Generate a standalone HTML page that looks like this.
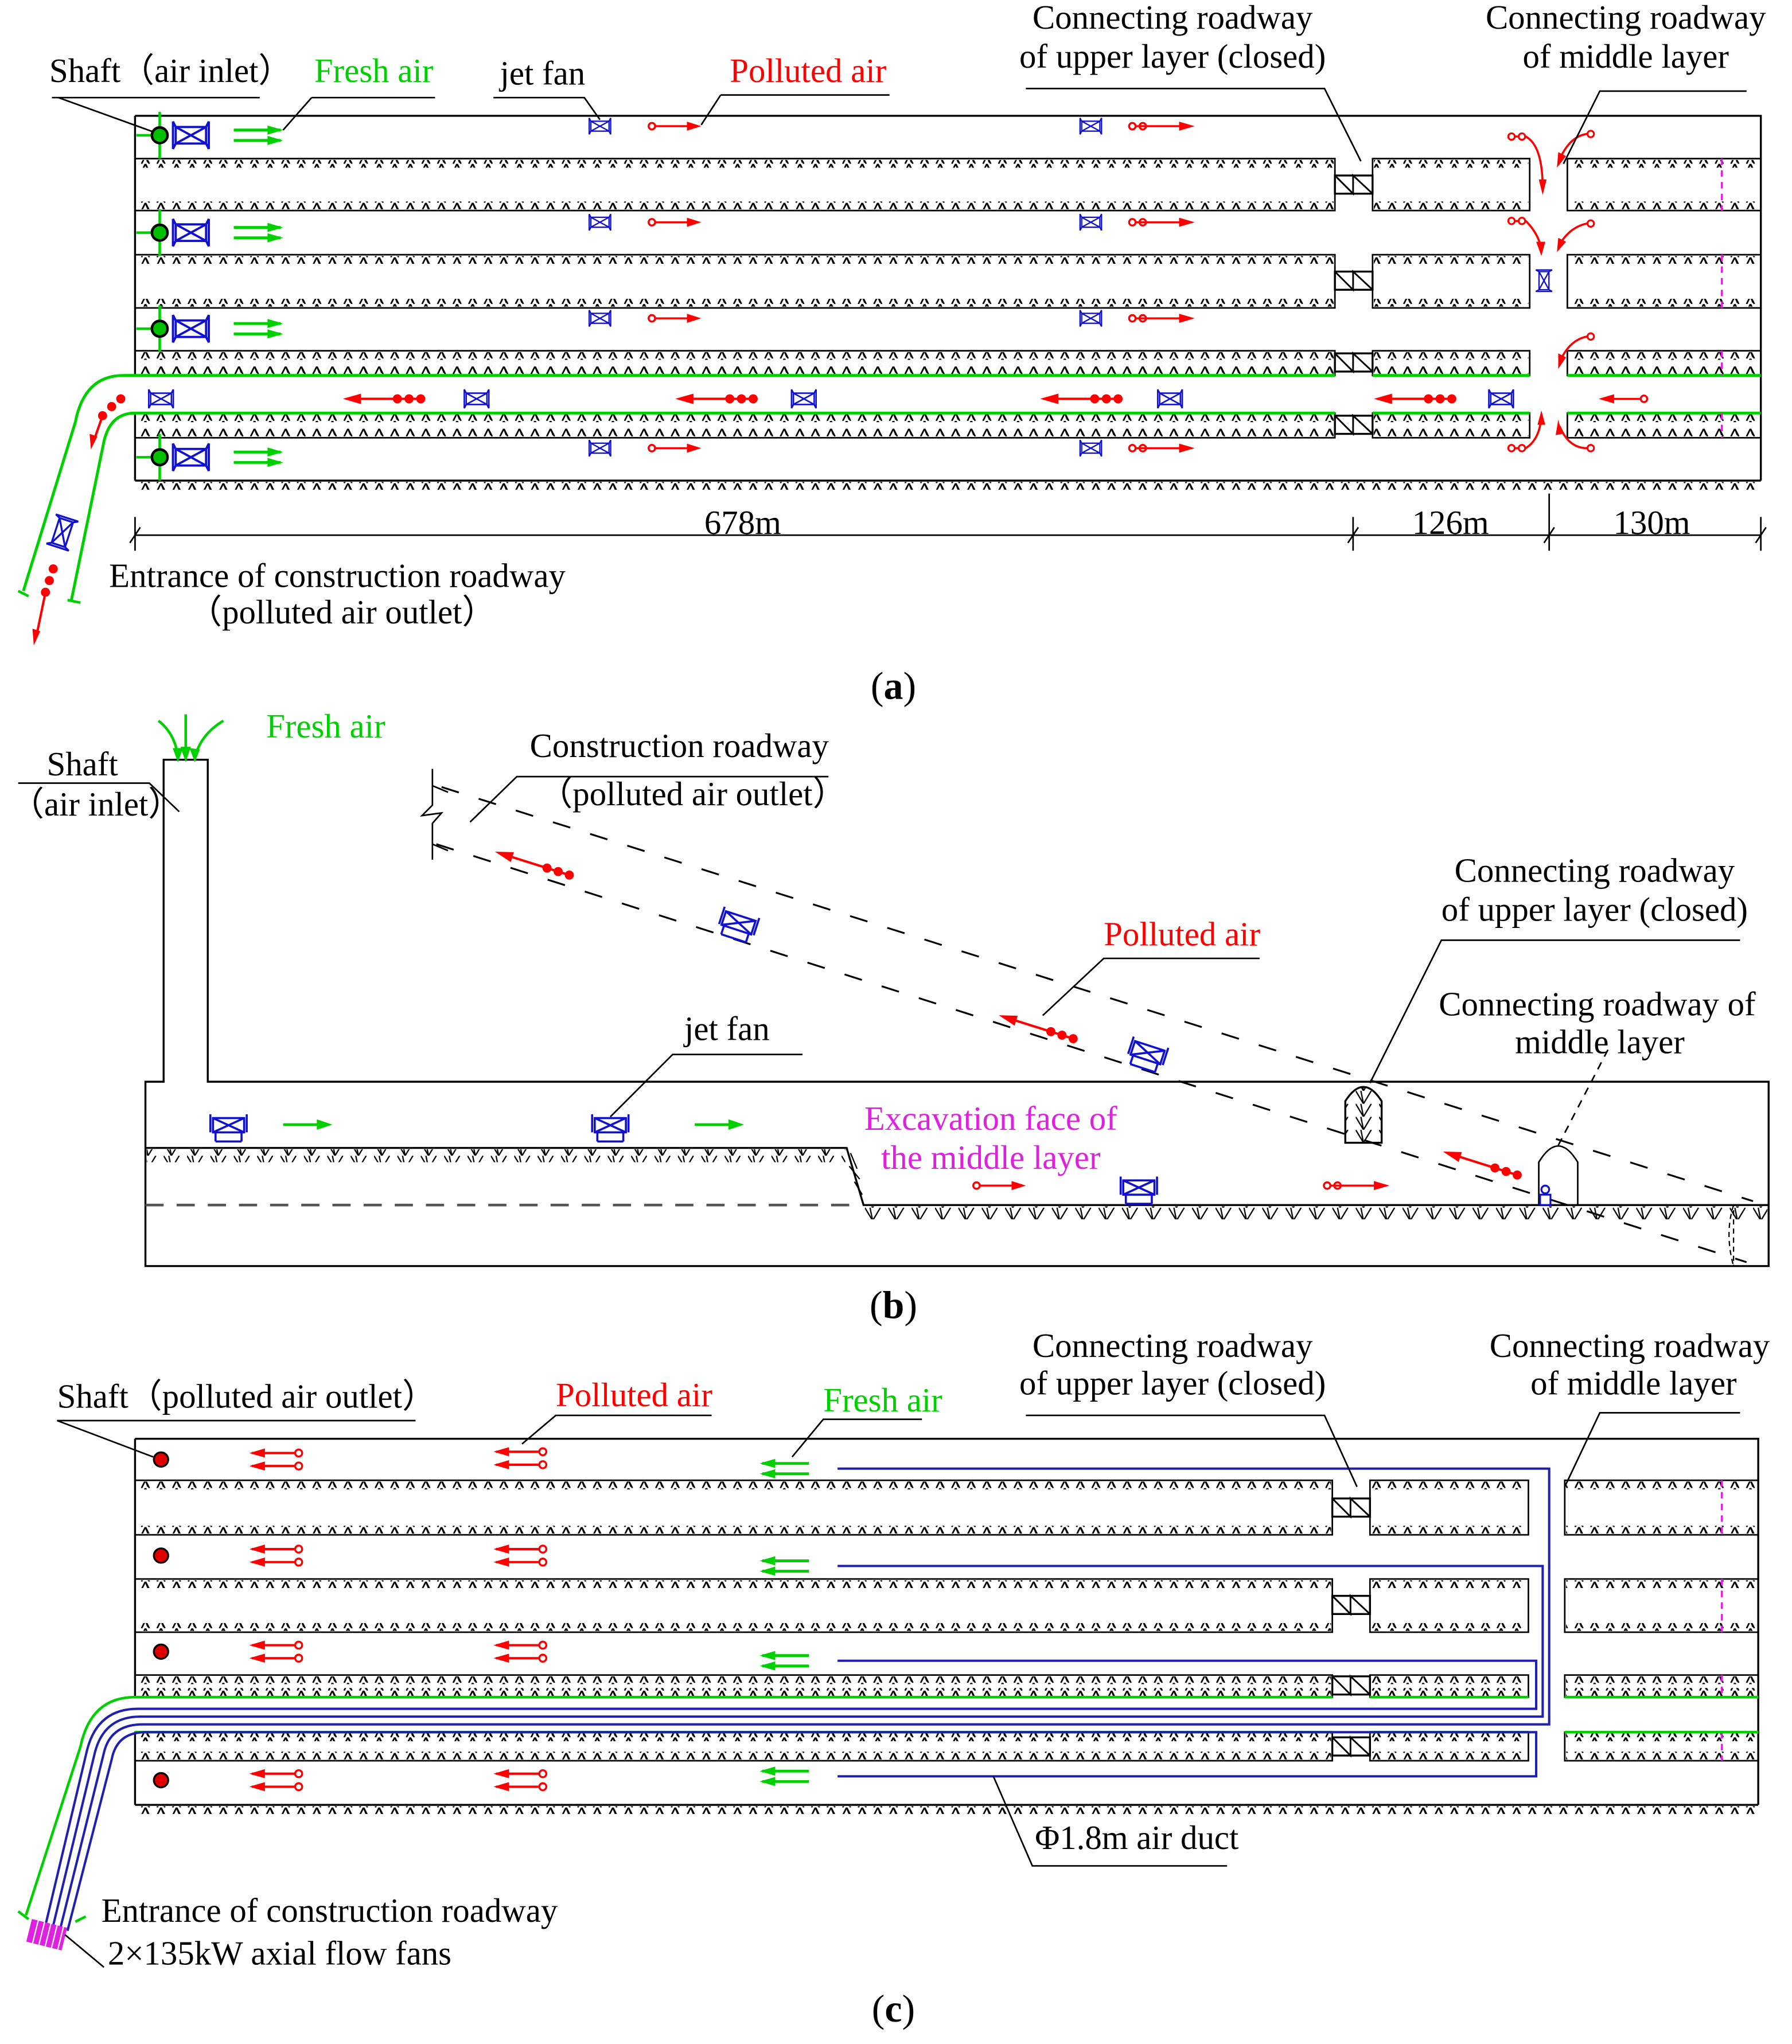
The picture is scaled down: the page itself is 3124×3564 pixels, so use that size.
<!DOCTYPE html>
<html><head><meta charset="utf-8"><style>
html,body{margin:0;padding:0;background:#fff}
svg{display:block}
text{font-family:"Liberation Serif",serif;font-size:26px;fill:#000}
.g{fill:#00d000}.r{fill:#ff0000}.m{fill:#e020e0}
.k{stroke:#000;stroke-width:1.5;fill:none}
.ki{stroke:#000;stroke-width:1.2;fill:none}
</style></head><body>
<svg width="3124" height="3564" viewBox="0 0 1380 1574" xmlns="http://www.w3.org/2000/svg">
<defs>
<pattern id="h" width="12" height="6" patternUnits="userSpaceOnUse"><path d="M1,6 L4,0 L7,6 M4,0 L6,5" stroke="#000" stroke-width="1.2" fill="none"/></pattern>
<pattern id="hb" width="18" height="10" patternUnits="userSpaceOnUse"><path d="M0,0 L6,10 L12,0 M6,10 L4,0" stroke="#000" stroke-width="1" fill="none"/></pattern>
<symbol id="fan" viewBox="0 0 32 22"><g stroke="#1010d0" stroke-width="1.6" fill="none"><rect x="5" y="5" width="22" height="12"/><path d="M5,5 L27,17 M5,17 L27,5 M3,1 L3,21 M29,1 L29,21 M3,1 L5,5 M3,21 L5,17 M29,1 L27,5 M29,21 L27,17"/></g></symbol>
<symbol id="bfan" viewBox="0 0 32 22"><g stroke="#1010d0" stroke-width="1.6" fill="none"><rect x="4" y="3" width="24" height="11"/><path d="M4,3 L28,14 M4,14 L28,3 M2,0 L2,14 M30,0 L30,14 M6,14 L6,21 M26,14 L26,21 M6,21 L26,21"/></g></symbol>
<g id="rr"><circle cx="0" cy="0" r="2.5" fill="none" stroke="#f00" stroke-width="1.5"/><circle cx="8" cy="0" r="2.5" fill="none" stroke="#f00" stroke-width="1.5"/><path d="M2,0 L40,0" stroke="#f00" stroke-width="1.5"/><path d="M48,0 L36,-3.5 L36,3.5Z" fill="#f00"/></g>
<g id="rr1"><circle cx="0" cy="0" r="2.5" fill="none" stroke="#f00" stroke-width="1.5"/><path d="M2,0 L30,0" stroke="#f00" stroke-width="1.5"/><path d="M38,0 L27,-3.5 L27,3.5Z" fill="#f00"/></g>
<g id="rl3"><path d="M0,0 L56,0" stroke="#f00" stroke-width="1.8"/><path d="M-4,0 L10,-4 L10,4Z" fill="#f00"/><circle cx="38" cy="0" r="3.5" fill="#f00"/><circle cx="47" cy="0" r="3.5" fill="#f00"/><circle cx="56" cy="0" r="3.5" fill="#f00"/></g>
<g id="gg"><path d="M0,-4 L36,-4 M0,4 L36,4" stroke="#00d000" stroke-width="2.2"/><path d="M38,-4 L26,-7.5 L26,-0.5Z M38,4 L26,0.5 L26,7.5Z" fill="#00d000"/></g>
<g id="gl"><path d="M2,-4 L38,-4 M2,4 L38,4" stroke="#00d000" stroke-width="2.2"/><path d="M0,-4 L12,-7.5 L12,-0.5Z M0,4 L12,0.5 L12,7.5Z" fill="#00d000"/></g>
<g id="rl2"><path d="M2,-5 L36,-5 M2,5 L36,5" stroke="#f00" stroke-width="1.8"/><path d="M0,-5 L12,-8.5 L12,-1.5Z M0,5 L12,1.5 L12,8.5Z" fill="#f00"/><circle cx="38" cy="-5" r="2.7" fill="#fff" stroke="#f00" stroke-width="1.5"/><circle cx="38" cy="5" r="2.7" fill="#fff" stroke="#f00" stroke-width="1.5"/></g>
<g id="shaft"><path d="M0,-18 L0,18 M-18,0 L-3,0" stroke="#00d000" stroke-width="2"/><circle cx="0" cy="0" r="6" fill="#00c000" stroke="#000" stroke-width="2"/></g>
<g id="cl"><rect x="0" y="-7" width="29" height="14" fill="#fff" stroke="#000" stroke-width="1.5"/><path d="M0,-7 L14,7 L14,-7 L29,7 M14,-7 L14,7" stroke="#000" stroke-width="1.3" fill="none"/></g>
</defs>

<!-- ===================== (a) ===================== -->
<g>
<path class="k" d="M104,89 L1356,89 L1356,370 M104,89 L104,289 M104,318 L104,370"/>
<g class="ki">
<rect x="104" y="122" width="924" height="40"/><rect x="1057" y="122" width="121" height="40"/><rect x="1207" y="122" width="149" height="40"/>
<rect x="104" y="196" width="924" height="41"/><rect x="1057" y="196" width="121" height="41"/><rect x="1207" y="196" width="149" height="41"/>
<rect x="104" y="270" width="924" height="19"/><rect x="1057" y="270" width="121" height="19"/><rect x="1207" y="270" width="149" height="19"/>
<rect x="104" y="318" width="924" height="19"/><rect x="1057" y="318" width="121" height="19"/><rect x="1207" y="318" width="149" height="19"/>
</g>
<g fill="url(#h)">
<rect x="105" y="123" width="922" height="6"/><rect x="105" y="155" width="922" height="6"/>
<rect x="1058" y="123" width="119" height="6"/><rect x="1058" y="155" width="119" height="6"/>
<rect x="1208" y="123" width="147" height="6"/><rect x="1208" y="155" width="147" height="6"/>
<rect x="105" y="197" width="922" height="6"/><rect x="105" y="230" width="922" height="6"/>
<rect x="1058" y="197" width="119" height="6"/><rect x="1058" y="230" width="119" height="6"/>
<rect x="1208" y="197" width="147" height="6"/><rect x="1208" y="230" width="147" height="6"/>
<rect x="105" y="271" width="922" height="6"/><rect x="105" y="282" width="922" height="6"/>
<rect x="1058" y="271" width="119" height="6"/><rect x="1058" y="282" width="119" height="6"/>
<rect x="1208" y="271" width="147" height="6"/><rect x="1208" y="282" width="147" height="6"/>
<rect x="105" y="319" width="922" height="6"/><rect x="105" y="330" width="922" height="6"/>
<rect x="1058" y="319" width="119" height="6"/><rect x="1058" y="330" width="119" height="6"/>
<rect x="1208" y="319" width="147" height="6"/><rect x="1208" y="330" width="147" height="6"/>
<rect x="104" y="371" width="1252" height="6"/>
</g>
<path d="M104,370 L1356,370" class="k"/>
<path d="M104,289 L1028,289 M1057,289 L1178,289 M1207,289 L1356,289 M104,318 L1028,318 M1057,318 L1178,318 M1207,318 L1356,318" stroke="#00d000" stroke-width="2.2"/>
<path d="M1326,122 L1326,162 M1326,196 L1326,237 M1326,270 L1326,289 M1326,318 L1326,337" stroke="#e020e0" stroke-width="1.5" stroke-dasharray="5,4"/>
<use href="#cl" x="1028" y="142"/><use href="#cl" x="1028" y="216"/><use href="#cl" x="1028" y="279"/><use href="#cl" x="1028" y="327"/>
<path d="M104,289 L95,289 Q65,289 58,325 L18,455 M104,318 Q85,318 80,340 L55,462" fill="none" stroke="#00d000" stroke-width="2.2"/>
<path d="M14,455 L22,459 M52,462 L62,464" stroke="#00d000" stroke-width="2"/>
<use href="#fan" x="0" y="0" width="30" height="20" transform="translate(48,410) rotate(-72) translate(-15,-10)"/>
<g fill="#f00"><circle cx="93" cy="307" r="3.5"/><circle cx="86" cy="313" r="3.5"/><circle cx="79" cy="320" r="3.5"/><circle cx="41" cy="438" r="3.5"/><circle cx="38" cy="447" r="3.5"/><circle cx="35" cy="456" r="3.5"/></g>
<path d="M79,320 L72,340 M35,456 L28,490" stroke="#f00" stroke-width="1.8"/>
<path d="M70,346 L69,334 L75,336Z M26,497 L25,484 L31,486Z" fill="#f00"/>
<use href="#shaft" x="123" y="104"/><use href="#shaft" x="123" y="179"/><use href="#shaft" x="123" y="253"/><use href="#shaft" x="123" y="352"/>
<use href="#fan" x="130" y="92" width="34" height="24"/><use href="#fan" x="130" y="167" width="34" height="24"/><use href="#fan" x="130" y="241" width="34" height="24"/><use href="#fan" x="130" y="340" width="34" height="24"/>
<use href="#gg" x="180" y="104"/><use href="#gg" x="180" y="179"/><use href="#gg" x="180" y="253"/><use href="#gg" x="180" y="352"/>
<use href="#fan" x="446" y="90" width="32" height="14"/><use href="#fan" x="446" y="164" width="32" height="14"/><use href="#fan" x="446" y="238" width="32" height="14"/><use href="#fan" x="446" y="338" width="32" height="14"/>
<use href="#fan" x="824" y="90" width="32" height="14"/><use href="#fan" x="824" y="164" width="32" height="14"/><use href="#fan" x="824" y="238" width="32" height="14"/><use href="#fan" x="824" y="338" width="32" height="14"/>
<use href="#rr1" x="502" y="97"/><use href="#rr1" x="502" y="171"/><use href="#rr1" x="502" y="245"/><use href="#rr1" x="502" y="345"/>
<use href="#rr" x="872" y="97"/><use href="#rr" x="872" y="171"/><use href="#rr" x="872" y="245"/><use href="#rr" x="872" y="345"/>
<use href="#fan" x="108" y="299" width="32" height="16"/><use href="#fan" x="351" y="299" width="32" height="16"/><use href="#fan" x="603" y="299" width="32" height="16"/><use href="#fan" x="885" y="299" width="32" height="16"/><use href="#fan" x="1140" y="299" width="32" height="16"/>
<use href="#rl3" x="268" y="307"/><use href="#rl3" x="524" y="307"/><use href="#rl3" x="805" y="307"/><use href="#rl3" x="1062" y="307"/>
<g transform="translate(1234,307)"><path d="M0,0 L30,0" stroke="#f00" stroke-width="1.5"/><path d="M-3,0 L9,-3.5 L9,3.5Z" fill="#f00"/><circle cx="32" cy="0" r="2.5" fill="#fff" stroke="#f00" stroke-width="1.5"/></g>
<use href="#fan" x="0" y="0" width="28" height="14" transform="translate(1189,216) rotate(90) translate(-14,-7)"/>
<g stroke="#f00" stroke-width="1.6" fill="none">
<path d="M1167,105 L1175,105 Q1188,112 1188,145"/><path d="M1222,103 Q1208,105 1200,125"/>
<path d="M1167,170 L1175,170 Q1185,180 1187,192"/><path d="M1222,172 Q1208,175 1200,190"/>
<path d="M1222,259 Q1208,262 1201,279"/>
<path d="M1167,345 L1175,345 Q1186,338 1187,320"/><path d="M1222,345 Q1208,345 1201,328"/>
</g>
<g fill="#f00"><path d="M1188,150 L1185,138 L1191,138Z M1187,197 L1183,186 L1190,186Z M1199,129 L1200,117 L1206,120Z M1199,194 L1200,183 L1206,186Z M1200,284 L1200,272 L1206,275Z M1187,316 L1184,327 L1190,327Z M1200,323 L1203,334 L1198,335Z"/></g>
<g fill="#fff" stroke="#f00" stroke-width="1.4"><circle cx="1164" cy="105" r="2.5"/><circle cx="1172" cy="105" r="2.5"/><circle cx="1225" cy="103" r="2.5"/><circle cx="1164" cy="170" r="2.5"/><circle cx="1172" cy="170" r="2.5"/><circle cx="1225" cy="172" r="2.5"/><circle cx="1225" cy="259" r="2.5"/><circle cx="1164" cy="345" r="2.5"/><circle cx="1172" cy="345" r="2.5"/><circle cx="1225" cy="345" r="2.5"/></g>
<path class="ki" d="M104,412 L1356,412 M104,398 L104,424 M1042,398 L1042,424 M1193,380 L1193,424 M1356,398 L1356,424 M100,418 L108,406 M1038,418 L1046,406 M1189,418 L1197,406 M1352,418 L1360,406"/>
<text x="572" y="411" text-anchor="middle">678m</text><text x="1117" y="411" text-anchor="middle">126m</text><text x="1272" y="411" text-anchor="middle">130m</text>
<text x="38" y="63">Shaft（air inlet）</text><path class="ki" d="M40,75 L200,75 M45,75 L117,101"/>
<text x="242" y="63" class="g">Fresh air</text><path class="ki" d="M240,75 L335,75 M240,75 L218,100"/>
<text x="385" y="65">jet fan</text><path class="ki" d="M380,75 L450,75 L462,92"/>
<text x="562" y="63" class="r">Polluted air</text><path class="ki" d="M555,73 L685,73 M555,73 L540,96"/>
<text x="903" y="22" text-anchor="middle">Connecting roadway</text><text x="903" y="52" text-anchor="middle">of upper layer (closed)</text>
<path class="ki" d="M790,68 L1020,68 L1048,124"/>
<text x="1252" y="22" text-anchor="middle">Connecting roadway</text><text x="1252" y="52" text-anchor="middle">of middle layer</text>
<path class="ki" d="M1345,70 L1232,70 L1204,126"/>
<text x="84" y="452">Entrance of construction roadway</text><text x="145" y="480">（polluted air outlet）</text>
<text x="688" y="538" text-anchor="middle" style="font-size:30px">(<tspan font-weight="bold">a</tspan>)</text>
</g>

<!-- ===================== (b) ===================== -->
<g>
<path class="k" d="M112,833 L126,833 L126,585 L160,585 L160,833 L1362,833 L1362,975 L112,975 Z"/>
<path class="k" d="M112,884 L652,884 L665,928 L1362,928"/>
<rect x="113" y="885" width="538" height="10" fill="url(#hb)"/><rect x="666" y="929" width="695" height="10" fill="url(#hb)"/>
<path d="M655,888 L660,900 M654,898 L662,908 M658,910 L664,920" stroke="#000" stroke-width="1"/>
<path d="M112,928 L655,928" stroke="#555" stroke-width="2" stroke-dasharray="14,10"/>
<path d="M340,606 L1350,925 M336,650 L1345,972" stroke="#000" stroke-width="1.4" stroke-dasharray="14,16"/>
<path class="ki" d="M333,592 L333,620 L325,628 L340,626 L333,634 L333,662 M333,605 L345,610 M333,650 L345,655"/>
<path d="M1335,928 L1362,928 L1362,975 L1335,975 Z M1335,928 Q1328,950 1335,975" stroke="#000" stroke-width="1" stroke-dasharray="4,3" fill="none"/>
<path d="M1036,880 L1036,848 Q1050,826 1064,848 L1064,880 Z" fill="url(#hb)" stroke="#000" stroke-width="1.5"/>
<path d="M1185,928 L1185,895 Q1200,870 1215,895 L1215,928" class="ki"/>
<circle cx="1190" cy="916" r="3" fill="none" stroke="#1010d0" stroke-width="1.4"/><rect x="1186" y="920" width="8" height="8" fill="none" stroke="#1010d0" stroke-width="1.4"/>
<path d="M1200,882 L1240,805" stroke="#000" stroke-width="1.2" stroke-dasharray="6,5"/>
<g stroke="#00d000" stroke-width="2" fill="none"><path d="M143,550 L143,582 M122,555 Q135,565 137,583 M172,555 Q155,565 150,583"/></g>
<path d="M143,587 L139,575 L147,575Z M137,587 L133,576 L141,576Z M150,587 L146,576 L154,577Z" fill="#00d000"/>
<use href="#bfan" x="160" y="858" width="32" height="22"/><use href="#bfan" x="454" y="858" width="32" height="22"/><use href="#bfan" x="861" y="906" width="32" height="22"/>
<use href="#bfan" x="0" y="0" width="32" height="22" transform="translate(568,713) rotate(18) translate(-16,-11)"/>
<use href="#bfan" x="0" y="0" width="32" height="22" transform="translate(883,813) rotate(18) translate(-16,-11)"/>
<g stroke="#00d000" stroke-width="2"><path d="M218,866 L248,866 M535,866 L565,866"/></g>
<path d="M256,866 L244,862 L244,870Z M573,866 L561,862 L561,870Z" fill="#00d000"/>
<use href="#rr1" x="752" y="913"/><use href="#rr" x="1022" y="913"/>
<use href="#rl3" transform="translate(385,657) rotate(17.5)"/>
<use href="#rl3" transform="translate(773,783) rotate(17.5)"/>
<use href="#rl3" transform="translate(1115,888) rotate(17.5)"/>
<text x="205" y="568" class="g">Fresh air</text>
<text x="36" y="597">Shaft</text><text x="8" y="628">（air inlet）</text><path class="ki" d="M14,603 L115,603 L138,625"/>
<text x="408" y="583">Construction roadway</text><text x="415" y="620">（polluted air outlet）</text>
<path class="ki" d="M638,598 L398,598 L362,633"/>
<text x="850" y="728" class="r">Polluted air</text><path class="ki" d="M970,738 L850,738 L803,782"/>
<text x="1228" y="679" text-anchor="middle">Connecting roadway</text><text x="1228" y="709" text-anchor="middle">of upper layer (closed)</text>
<path class="ki" d="M1340,724 L1110,724 L1055,834"/>
<text x="1230" y="782" text-anchor="middle">Connecting roadway of</text><text x="1232" y="811" text-anchor="middle">middle layer</text>
<text x="527" y="801">jet fan</text><path class="ki" d="M618,812 L518,812 L470,860"/>
<text x="763" y="870" text-anchor="middle" class="m">Excavation face of</text><text x="763" y="900" text-anchor="middle" class="m">the middle layer</text>
<text x="688" y="1015" text-anchor="middle" style="font-size:30px">(<tspan font-weight="bold">b</tspan>)</text>
</g>

<!-- ===================== (c) ===================== -->
<g>
<path class="k" d="M104,1108 L1354,1108 L1354,1390 M104,1108 L104,1307 M104,1334 L104,1390"/>
<g class="ki">
<rect x="104" y="1140" width="922" height="42"/><rect x="1055" y="1140" width="122" height="42"/><rect x="1205" y="1140" width="149" height="42"/>
<rect x="104" y="1216" width="922" height="41"/><rect x="1055" y="1216" width="122" height="41"/><rect x="1205" y="1216" width="149" height="41"/>
<rect x="104" y="1290" width="922" height="17"/><rect x="1055" y="1290" width="122" height="17"/><rect x="1205" y="1290" width="149" height="17"/>
<rect x="104" y="1334" width="922" height="22"/><rect x="1055" y="1334" width="122" height="22"/><rect x="1205" y="1334" width="149" height="22"/>
</g>
<g fill="url(#h)">
<rect x="105" y="1141" width="920" height="6"/><rect x="105" y="1175" width="920" height="6"/>
<rect x="1056" y="1141" width="120" height="6"/><rect x="1056" y="1175" width="120" height="6"/>
<rect x="1206" y="1141" width="147" height="6"/><rect x="1206" y="1175" width="147" height="6"/>
<rect x="105" y="1217" width="920" height="6"/><rect x="105" y="1250" width="920" height="6"/>
<rect x="1056" y="1217" width="120" height="6"/><rect x="1056" y="1250" width="120" height="6"/>
<rect x="1206" y="1217" width="147" height="6"/><rect x="1206" y="1250" width="147" height="6"/>
<rect x="105" y="1291" width="920" height="6"/><rect x="105" y="1300" width="920" height="6"/>
<rect x="1056" y="1291" width="120" height="6"/><rect x="1056" y="1300" width="120" height="6"/>
<rect x="1206" y="1291" width="147" height="6"/><rect x="1206" y="1300" width="147" height="6"/>
<rect x="105" y="1335" width="920" height="6"/><rect x="105" y="1349" width="920" height="6"/>
<rect x="1056" y="1335" width="120" height="6"/><rect x="1056" y="1349" width="120" height="6"/>
<rect x="1206" y="1335" width="147" height="6"/><rect x="1206" y="1349" width="147" height="6"/>
<rect x="104" y="1391" width="1250" height="6"/>
</g>
<path d="M104,1390 L1354,1390" class="k"/>
<path d="M1326,1140 L1326,1182 M1326,1216 L1326,1257 M1326,1290 L1326,1307 M1326,1334 L1326,1356" stroke="#e020e0" stroke-width="1.5" stroke-dasharray="5,4"/>
<use href="#cl" x="1026" y="1161"/><use href="#cl" x="1026" y="1236"/><use href="#cl" x="1026" y="1298"/><use href="#cl" x="1026" y="1345"/>
<path d="M104,1307 L1026,1307 M1055,1307 L1177,1307 M1205,1307 L1354,1307 M104,1334 L1026,1334 M1055,1334 L1177,1334 M1205,1334 L1354,1334" stroke="#00d000" stroke-width="2"/>
<path d="M104,1307 Q70,1307 62,1345 L20,1475" fill="none" stroke="#00d000" stroke-width="2"/>
<g fill="none" stroke="#2020b0" stroke-width="1.8">
<path d="M645,1131 L1193,1131 L1193,1328 L110,1328 Q85,1328 80,1350 L46,1487"/>
<path d="M645,1206 L1188,1206 L1188,1322 L108,1322 Q80,1322 73,1350 L40,1487"/>
<path d="M645,1279 L1183,1279 L1183,1316 L106,1316 Q75,1316 67,1348 L34,1487"/>
<path d="M645,1368 L1183,1368 L1183,1334 L112,1334 Q90,1334 86,1355 L52,1487"/>
</g>
<path d="M14,1472 L22,1478 M58,1480 L66,1476" stroke="#00d000" stroke-width="2"/>
<g transform="translate(36,1490) rotate(14)"><rect x="-14" y="-9" width="28" height="18" fill="#e020e0"/><path d="M-9,-9 L-9,9 M-4,-9 L-4,9 M1,-9 L1,9 M6,-9 L6,9 M11,-9 L11,9" stroke="#fff" stroke-width="1"/></g>
<g fill="#e00000" stroke="#000" stroke-width="1.5"><circle cx="124" cy="1124" r="5.5"/><circle cx="124" cy="1198" r="5.5"/><circle cx="124" cy="1272" r="5.5"/><circle cx="124" cy="1371" r="5.5"/></g>
<use href="#rl2" x="192" y="1124"/><use href="#rl2" x="192" y="1198"/><use href="#rl2" x="192" y="1272"/><use href="#rl2" x="192" y="1371"/>
<use href="#rl2" x="380" y="1123"/><use href="#rl2" x="380" y="1198"/><use href="#rl2" x="380" y="1272"/><use href="#rl2" x="380" y="1371"/>
<use href="#gl" x="585" y="1131"/><use href="#gl" x="585" y="1206"/><use href="#gl" x="585" y="1279"/><use href="#gl" x="585" y="1368"/>
<text x="44" y="1084">Shaft（polluted air outlet）</text><path class="ki" d="M320,1094 L44,1094 L118,1122"/>
<text x="428" y="1083" class="r">Polluted air</text><path class="ki" d="M548,1090 L428,1090 L402,1112"/>
<text x="634" y="1087" class="g">Fresh air</text><path class="ki" d="M710,1093 L634,1093 L610,1122"/>
<text x="903" y="1045" text-anchor="middle">Connecting roadway</text><text x="903" y="1074" text-anchor="middle">of upper layer (closed)</text>
<path class="ki" d="M790,1090 L1020,1090 L1045,1145"/>
<text x="1255" y="1045" text-anchor="middle">Connecting roadway</text><text x="1258" y="1074" text-anchor="middle">of middle layer</text>
<path class="ki" d="M1340,1088 L1232,1088 L1205,1145"/>
<text x="797" y="1424">Φ1.8m air duct</text><path class="ki" d="M945,1437 L795,1437 L765,1368"/>
<text x="78" y="1480">Entrance of construction roadway</text>
<text x="83" y="1513">2×135kW axial flow fans</text><path class="ki" d="M80,1515 L50,1490"/>
<text x="688" y="1557" text-anchor="middle" style="font-size:30px">(<tspan font-weight="bold">c</tspan>)</text>
</g>
</svg>
</body></html>
